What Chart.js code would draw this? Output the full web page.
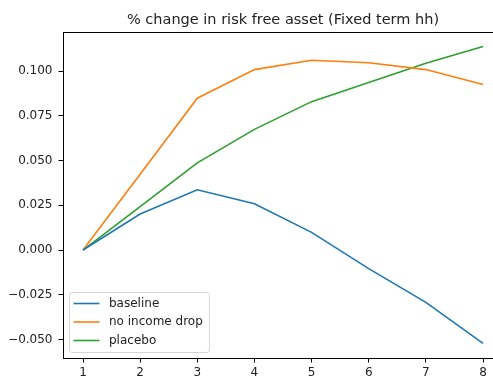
<!DOCTYPE html>
<html>
<head>
<meta charset="utf-8">
<script src="https://cdn.jsdelivr.net/npm/chart.js@4/dist/chart.umd.min.js"></script>
<style>
  html, body { margin: 0; padding: 0; background: #fff; overflow: hidden; }
  #wrap { width: 493px; height: 379px; overflow: hidden; position: relative; }
  canvas { display: block; }
</style>
</head>
<body>
<div id="wrap"><canvas id="c" width="512" height="379"></canvas></div>
<script>
// Horizon (periods) and the % change in the risk free asset for each scenario
const periods = [1, 2, 3, 4, 5, 6, 7, 8];
const baseline = [0, 0.0201, 0.0337, 0.0259, 0.0099, -0.0104, -0.0292, -0.0521];
const noIncomeDrop = [0, 0.0424, 0.0848, 0.1008, 0.1060, 0.1046, 0.1008, 0.0925];
const placebo = [0, 0.0242, 0.0487, 0.0674, 0.0829, 0.0936, 0.1043, 0.1137];

const seriesNames = ['baseline', 'no income drop', 'placebo'];
const yTicks = [-0.050, -0.025, 0.000, 0.025, 0.050, 0.075, 0.100];
const titleText = '% change in risk free asset (Fixed term hh)';

const FONT = '"DejaVu Sans", sans-serif';
const TEXT = '#222';

const toPoints = vals => periods.map((p, i) => ({ x: p, y: vals[i] }));

// Axes frame, title and an in-plot legend
const framePlugin = {
  id: 'frame',
  afterDraw(chart) {
    const { ctx, chartArea: a } = chart;
    ctx.save();
    ctx.strokeStyle = '#000';
    ctx.lineWidth = 1;
    ctx.strokeRect(Math.round(a.left) + 0.5, Math.round(a.top) + 0.5,
                   Math.round(a.right - a.left), Math.round(a.bottom - a.top));

    // title
    ctx.fillStyle = TEXT;
    ctx.font = '14.5px ' + FONT;
    ctx.textAlign = 'center';
    ctx.textBaseline = 'middle';
    ctx.fillText(titleText, (a.left + a.right) / 2, 20);

    // legend
    const bx = a.left + 6.5, by = a.bottom - 65.5, bw = 140, bh = 60, r = 3;
    ctx.beginPath();
    ctx.moveTo(bx + r, by);
    ctx.arcTo(bx + bw, by, bx + bw, by + bh, r);
    ctx.arcTo(bx + bw, by + bh, bx, by + bh, r);
    ctx.arcTo(bx, by + bh, bx, by, r);
    ctx.arcTo(bx, by, bx + bw, by, r);
    ctx.closePath();
    ctx.fillStyle = 'rgba(255,255,255,0.8)';
    ctx.fill();
    ctx.strokeStyle = '#d6d6d6';
    ctx.lineWidth = 1;
    ctx.stroke();

    ctx.font = '12px ' + FONT;
    ctx.textAlign = 'left';
    ctx.textBaseline = 'middle';
    chart.data.datasets.forEach((ds, i) => {
      const yy = by + 11 + i * 18.5;
      ctx.strokeStyle = ds.borderColor;
      ctx.lineWidth = ds.borderWidth;
      ctx.beginPath();
      ctx.moveTo(bx + 4, yy);
      ctx.lineTo(bx + 30, yy);
      ctx.stroke();
      ctx.fillStyle = TEXT;
      ctx.fillText(ds.label, bx + 39.5, yy);
    });
    ctx.restore();
  }
};

const colors = ['#1f77b4', '#ff7f0e', '#2ca02c'];
const seriesValues = [baseline, noIncomeDrop, placebo];

new Chart(document.getElementById('c'), {
  type: 'line',
  data: {
    datasets: seriesValues.map((vals, i) => ({
      label: seriesNames[i],
      data: toPoints(vals),
      borderColor: colors[i],
      backgroundColor: colors[i],
      borderWidth: 1.6,
      pointRadius: 0,
      tension: 0,
      fill: false
    }))
  },
  options: {
    responsive: false,
    animation: false,
    devicePixelRatio: 1,
    layout: { padding: { top: 32, right: 9, left: 0, bottom: 0 } },
    plugins: {
      legend: { display: false },
      title: { display: false },
      tooltip: { enabled: false }
    },
    scales: {
      x: {
        type: 'linear',
        min: 0.65,
        max: 8.35,
        afterBuildTicks: s => { s.ticks = periods.map(v => ({ value: v })); },
        afterFit: s => { s.height = 21; },
        grid: { drawOnChartArea: false, drawTicks: true, tickLength: 4.5, tickColor: '#000', tickWidth: 1 },
        border: { display: false },
        ticks: {
          color: TEXT,
          font: { family: FONT, size: 12 },
          padding: 3.5,
          maxRotation: 0,
          callback: v => String(v)
        }
      },
      y: {
        type: 'linear',
        min: -0.0603,
        max: 0.1218,
        afterBuildTicks: s => { s.ticks = yTicks.map(v => ({ value: v })); },
        afterFit: s => { s.width = 63; },
        grid: { drawOnChartArea: false, drawTicks: true, tickLength: 4.5, tickColor: '#000', tickWidth: 1 },
        border: { display: false },
        ticks: {
          color: TEXT,
          font: { family: FONT, size: 12 },
          padding: 6,
          callback: v => (v < 0 ? '\u2212' : '') + Math.abs(v).toFixed(3)
        }
      }
    }
  },
  plugins: [framePlugin]
});
</script>
</body>
</html>
